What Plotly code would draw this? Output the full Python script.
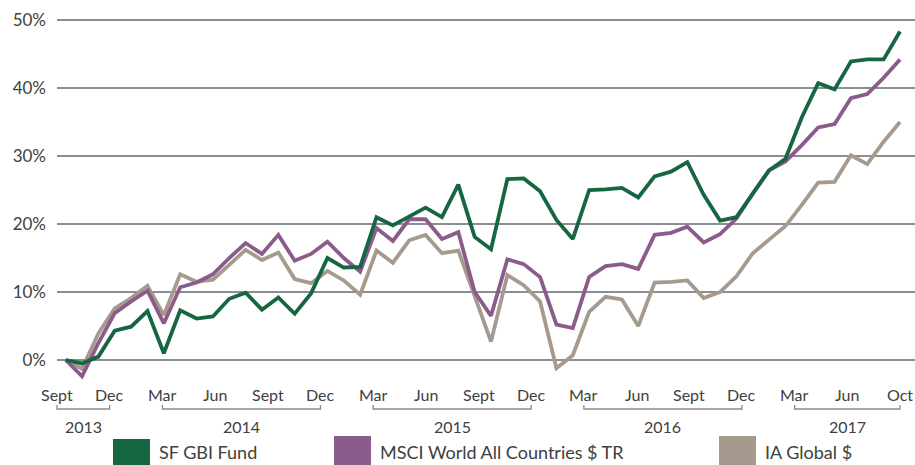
import numpy as np
import plotly.graph_objects as go

# ---------------- data ----------------
month_labels = ["Sept", "Dec", "Mar", "Jun", "Sept", "Dec", "Mar", "Jun", "Sept",
                "Dec", "Mar", "Jun", "Sept", "Dec", "Mar", "Jun", "Oct"]
year_labels = ["2013", "2014", "2015", "2016", "2017"]
# first / last month label (index into month_labels) covered by each year bracket
year_first = [0, 2, 6, 10, 14]
year_last = [1, 5, 9, 13, 16]

series_names = ["SF GBI Fund", "MSCI World All Countries $ TR", "IA Global $"]

sf_gbi = [0.0, -0.5, 0.5, 4.3, 4.9, 7.2, 1.0, 7.3, 6.1, 6.4,
          9.0, 9.9, 7.4, 9.2, 6.8, 9.8, 15.0, 13.6, 13.7, 21.0,
          19.8, 21.1, 22.4, 21.0, 25.8, 18.1, 16.3, 26.6, 26.7, 24.8,
          20.6, 17.8, 25.0, 25.1, 25.3, 23.9, 27.0, 27.7, 29.1, 24.3,
          20.5, 21.0, 24.5, 27.9, 29.6, 35.7, 40.7, 39.8, 43.9, 44.2,
          44.2, 48.3]
msci_world = [0.0, -2.4, 2.5, 6.9, 8.6, 10.2, 5.4, 10.7, 11.4, 12.6,
              15.0, 17.2, 15.6, 18.4, 14.6, 15.6, 17.4, 15.0, 13.0, 19.4,
              17.5, 20.7, 20.7, 17.8, 18.8, 10.0, 6.5, 14.8, 14.1, 12.2,
              5.2, 4.7, 12.2, 13.8, 14.1, 13.4, 18.4, 18.7, 19.6, 17.3,
              18.5, 20.8, 24.5, 27.9, 29.2, 31.6, 34.2, 34.7, 38.5, 39.1,
              41.5, 44.2]
ia_global = [0.0, -1.3, 3.9, 7.6, 9.1, 10.9, 6.6, 12.6, 11.5, 11.8,
             14.0, 16.2, 14.7, 15.8, 11.9, 11.3, 13.1, 11.7, 9.6, 16.1,
             14.3, 17.6, 18.4, 15.7, 16.1, 9.6, 2.7, 12.5, 11.0, 8.6,
             -1.2, 0.7, 7.1, 9.3, 8.9, 5.0, 11.4, 11.5, 11.7, 9.1,
             10.0, 12.3, 15.7, 17.7, 19.7, 22.8, 26.1, 26.2, 30.1, 28.8,
             32.1, 35.0]

# ---------------- styling ----------------
W, H = 915, 465
ML, MR, MT, MB = 57, 0, 10, 85
PW, PH = W - ML - MR, H - MT - MB
GREEN, PURPLE, GREY = "#166641", "#8b5c8b", "#a59a8d"
TXT = "#404040"
GRID = "#8a8d92"
FONT = "Lato"

n = len(sf_gbi)
x = np.arange(n)
x_min = -0.53
x_max = (n - 1) + 15 / 16.36
y_min, y_max = -2.94, 51.47

tickvals = np.linspace(x_min, n - 1, len(month_labels))


def xp(v):  # data x -> paper
    return (v - x_min) / (x_max - x_min)


def px_x(p):  # pixel x -> paper
    return (p - ML) / PW


def px_y(p):  # pixel y -> paper
    return (H - MB - p) / PH


fig = go.Figure()
for vals, name, col in [(ia_global, series_names[2], GREY),
                        (msci_world, series_names[1], PURPLE),
                        (sf_gbi, series_names[0], GREEN)]:
    fig.add_trace(go.Scatter(x=x, y=vals, mode="lines", name=name,
                             line=dict(color=col, width=3.8),
                             showlegend=False, hoverinfo="skip"))

shapes = []
annotations = []

# month labels
for tv, lab in zip(tickvals, month_labels):
    annotations.append(dict(x=tv, xref="x", y=px_y(394), yref="paper",
                            text=lab, showarrow=False, xanchor="center",
                            yanchor="middle", font=dict(size=16, color=TXT, family=FONT)))

# year brackets + labels
for lab, a, b in zip(year_labels, year_first, year_last):
    x0, x1 = xp(tickvals[a]), xp(tickvals[b])
    yb, yt = px_y(409), px_y(405)
    shapes.append(dict(type="path", xref="paper", yref="paper",
                       path=f"M {x0},{yt} L {x0},{yb} L {x1},{yb} L {x1},{yt}",
                       line=dict(color="#8a8a8a", width=1.3)))
    annotations.append(dict(x=(tickvals[a] + tickvals[b]) / 2, xref="x",
                            y=px_y(426), yref="paper", text=lab, showarrow=False,
                            xanchor="center", yanchor="middle",
                            font=dict(size=16, color=TXT, family=FONT)))

# legend (big squares + text)
legend_items = [(series_names[0], GREEN, 113, 439, 157),
                (series_names[1], PURPLE, 334, 436, 378),
                (series_names[2], GREY, 719, 436, 763)]
for name, col, sx, sy, tx in legend_items:
    shapes.append(dict(type="rect", xref="paper", yref="paper",
                       x0=px_x(sx), x1=px_x(sx + 37), y0=px_y(sy), y1=px_y(H + 10),
                       fillcolor=col, line=dict(width=0)))
    annotations.append(dict(x=px_x(tx), xref="paper", y=px_y(465), yref="paper",
                            text=name, showarrow=False, xanchor="left",
                            yanchor="bottom", font=dict(size=18, color=TXT, family=FONT)))

fig.update_layout(
    width=W, height=H,
    margin=dict(l=ML, r=MR, t=MT, b=MB),
    paper_bgcolor="white", plot_bgcolor="white",
    font=dict(family=FONT, color=TXT),
    shapes=shapes, annotations=annotations,
    xaxis=dict(range=[x_min, x_max], showgrid=False, zeroline=False,
               showticklabels=False, showline=False, ticks=""),
    yaxis=dict(range=[y_min, y_max], tickvals=[0, 10, 20, 30, 40, 50],
               ticktext=["0%", "10%", "20%", "30%", "40%", "50%"],
               showgrid=True, gridcolor=GRID, gridwidth=1.4, zeroline=False,
               showline=False, ticks="", ticklabelstandoff=10,
               tickfont=dict(size=17, color=TXT, family=FONT)),
)

fig.write_html("out.html",
               config={"displayModeBar": False, "staticPlot": True},
               post_script="document.body.style.margin='0';"
                           "document.body.style.overflow='hidden';")
